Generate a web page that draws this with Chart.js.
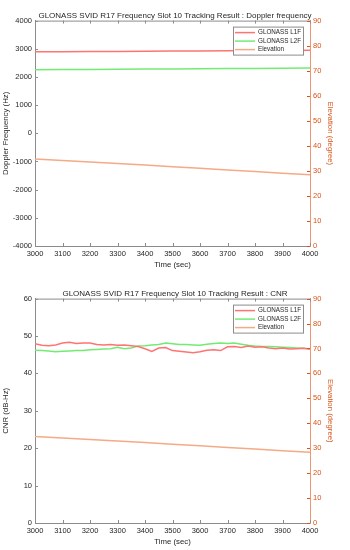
<!DOCTYPE html>
<html>
<head>
<meta charset="utf-8">
<script src="https://cdn.jsdelivr.net/npm/chart.js@4"></script>
<style>
  html, body { margin: 0; padding: 0; background: #fff; }
  .box { width: 350px; height: 275px; }
</style>
</head>
<body>
<div class="box"><canvas id="idoppler" width="350" height="275"></canvas></div>
<div class="box"><canvas id="icnr" width="350" height="275"></canvas></div>
<script>
// doppler / elevation, every 100 s
const dopTime = [3000, 3100, 3200, 3300, 3400, 3500, 3600, 3700, 3800, 3900, 4000];
const dopL1F = [2890, 2895, 2900, 2905, 2912, 2918, 2924, 2930, 2937, 2943, 2950];
const dopL2F = [2255, 2261, 2267, 2273, 2279, 2285, 2291, 2297, 2303, 2309, 2315];
const elevation = [34.7, 34.1, 33.5, 32.9, 32.3, 31.6, 31.0, 30.3, 29.7, 29.0, 28.4];

// CNR, every 25 s
const cnrTime = [3000, 3025, 3050, 3075, 3100, 3125, 3150, 3175, 3200, 3225, 3250, 3275, 3300, 3325,
  3350, 3375, 3400, 3425, 3450, 3475, 3500, 3525, 3550, 3575, 3600, 3625, 3650, 3675, 3700, 3725,
  3750, 3775, 3800, 3825, 3850, 3875, 3900, 3925, 3950, 3975, 4000];
const cnrL1F = [47.9, 47.5, 47.4, 47.6, 48.1, 48.3, 48.0, 48.1, 48.1, 47.7, 47.6, 47.7, 47.5, 47.6,
  47.4, 47.2, 46.6, 45.9, 46.8, 46.9, 46.1, 45.9, 45.7, 45.5, 45.8, 46.2, 46.3, 46.1, 47.1, 47.2,
  46.9, 47.3, 47.0, 47.1, 46.8, 46.6, 46.8, 46.5, 46.6, 46.7, 46.5];
const cnrL2F = [46.2, 46.1, 46.0, 45.8, 45.9, 46.0, 46.1, 46.1, 46.3, 46.4, 46.5, 46.6, 47.0, 46.6,
  46.8, 47.3, 47.4, 47.6, 47.7, 48.1, 47.9, 47.7, 47.7, 47.6, 47.5, 47.8, 48.0, 48.1, 48.0, 48.1,
  47.8, 47.5, 47.3, 47.2, 47.2, 47.1, 47.0, 46.9, 46.8, 46.7, 46.5];

const COL_L1 = "rgb(255,115,115)";
const COL_L2 = "rgb(115,235,115)";
const COL_EL = "rgb(245,170,135)";
const AX = "#262626";
const ORANGE = "#D95319";
const FONT = "'Liberation Sans', Arial, sans-serif";

const pts = (xs, ys) => xs.map((x, i) => ({ x: x, y: ys[i] }));
const plain = v => String(v);
const noGrid = { display: false, drawTicks: false, tickLength: 0 };

// MATLAB style box: top edge plus ticks pointing inward
const boxTicks = {
    id: "boxTicks",
    afterDraw(chart) {
        const { ctx, chartArea: a, scales } = chart;
        ctx.save();
        ctx.lineWidth = 1;
        ctx.strokeStyle = "#8c8c8c";
        ctx.beginPath();
        ctx.moveTo(a.left, a.top + 0.5);
        ctx.lineTo(a.right, a.top + 0.5);
        scales.x.ticks.forEach(t => {
            const px = Math.round(scales.x.getPixelForValue(t.value)) + 0.5;
            ctx.moveTo(px, a.bottom); ctx.lineTo(px, a.bottom - 3);
            ctx.moveTo(px, a.top); ctx.lineTo(px, a.top + 3);
        });
        scales.y.ticks.forEach(t => {
            const py = Math.round(scales.y.getPixelForValue(t.value)) + 0.5;
            ctx.moveTo(a.left, py); ctx.lineTo(a.left + 3, py);
        });
        ctx.stroke();
        ctx.strokeStyle = ORANGE;
        ctx.beginPath();
        scales.y1.ticks.forEach(t => {
            const py = Math.round(scales.y1.getPixelForValue(t.value)) + 0.5;
            ctx.moveTo(a.right, py); ctx.lineTo(a.right - 3, py);
        });
        ctx.stroke();
        ctx.restore();
    }
};

// legend box in the upper right corner of the plot
const boxLegend = {
    id: "boxLegend",
    afterDraw(chart) {
        const { ctx, chartArea: a } = chart;
        const w = 70, h = 28;
        const x0 = a.right - 7 - w, y0 = a.top + 6;
        ctx.save();
        ctx.fillStyle = "#fff";
        ctx.fillRect(x0, y0, w, h);
        ctx.strokeStyle = "#8c8c8c";
        ctx.lineWidth = 1;
        ctx.strokeRect(x0 + 0.5, y0 + 0.5, w, h);
        ctx.font = "6.3px " + FONT;
        ctx.textBaseline = "middle";
        chart.data.datasets.forEach((ds, i) => {
            const yy = y0 + 6 + i * 8.5;
            ctx.strokeStyle = ds.borderColor;
            ctx.lineWidth = 1.5;
            ctx.beginPath();
            ctx.moveTo(x0 + 2, yy);
            ctx.lineTo(x0 + 22, yy);
            ctx.stroke();
            ctx.fillStyle = AX;
            ctx.fillText(ds.label, x0 + 25, yy);
        });
        ctx.restore();
    }
};

function makeChart(id, title, opts) {
    new Chart(id, {
        type: "line",
        data: {
            datasets: [
                { label: "GLONASS L1F", data: opts.l1, borderColor: COL_L1, yAxisID: "y" },
                { label: "GLONASS L2F", data: opts.l2, borderColor: COL_L2, yAxisID: "y" },
                { label: "Elevation", data: opts.el, borderColor: COL_EL, yAxisID: "y1" }
            ]
        },
        options: {
            responsive: false,
            animation: false,
            layout: { padding: 0 },
            elements: {
                point: { radius: 0 },
                line: { borderWidth: 1.5, tension: 0 }
            },
            plugins: {
                legend: { display: false },
                tooltip: { enabled: false },
                title: {
                    display: true,
                    text: title,
                    color: AX,
                    font: { family: FONT, size: 8, weight: "normal", lineHeight: 1.2 },
                    padding: { top: opts.titleTop, bottom: 0 }
                }
            },
            scales: {
                x: {
                    type: "linear", min: 3000, max: 4000,
                    afterFit: s => { s.height = opts.xh; },
                    grid: noGrid,
                    border: { color: "#8c8c8c" },
                    ticks: { stepSize: 100, color: AX, font: { family: FONT, size: 7.5 }, padding: 3,
                             maxRotation: 0, autoSkip: false, callback: plain },
                    title: { display: true, text: "Time (sec)", color: AX,
                             font: { family: FONT, size: 7.8 }, padding: { top: 0, bottom: opts.xtPad } }
                },
                y: {
                    position: "left", min: opts.ymin, max: opts.ymax,
                    afterFit: s => { s.width = 35; },
                    grid: noGrid,
                    border: { color: "#8c8c8c" },
                    ticks: { stepSize: opts.ystep, color: AX, font: { family: FONT, size: 7.5 }, padding: 3,
                             callback: plain },
                    title: { display: true, text: opts.ytitle, color: AX,
                             font: { family: FONT, size: 7.8 }, padding: { top: 1.5, bottom: 0 } }
                },
                y1: {
                    position: "right", min: 0, max: 90,
                    afterFit: s => { s.width = 40; },
                    grid: noGrid,
                    border: { color: "rgb(240,150,110)" },
                    ticks: { stepSize: 10, color: ORANGE, font: { family: FONT, size: 7.5 }, padding: 3,
                             callback: plain },
                    title: { display: true, text: "Elevation (degree)", color: ORANGE,
                             font: { family: FONT, size: 7.8 }, padding: { top: 15.5, bottom: 0 } }
                }
            }
        },
        plugins: [boxTicks, boxLegend]
    });
}

makeChart("idoppler", "GLONASS SVID R17 Frequency Slot 10 Tracking Result : Doppler frequency", {
    l1: pts(dopTime, dopL1F), l2: pts(dopTime, dopL2F), el: pts(dopTime, elevation),
    ymin: -4000, ymax: 4000, ystep: 1000, ytitle: "Doppler Frequency (Hz)",
    titleTop: 11, xh: 29, xtPad: 5
});

makeChart("icnr", "GLONASS SVID R17 Frequency Slot 10 Tracking Result : CNR", {
    l1: pts(cnrTime, cnrL1F), l2: pts(cnrTime, cnrL2F), el: pts(dopTime, elevation),
    ymin: 0, ymax: 60, ystep: 10, ytitle: "CNR (dB-Hz)",
    titleTop: 14, xh: 27, xtPad: 3
});
</script>
</body>
</html>
